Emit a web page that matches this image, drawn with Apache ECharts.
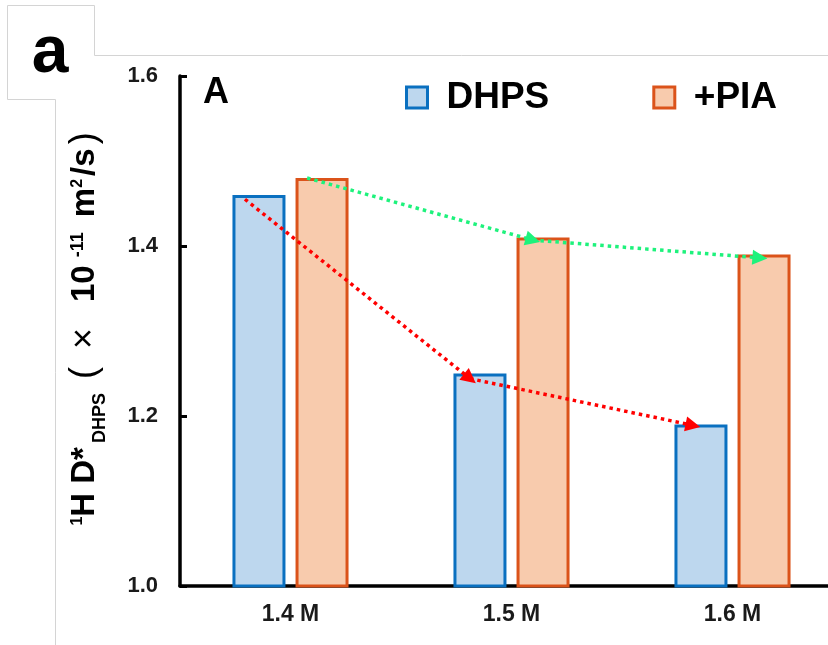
<!DOCTYPE html>
<html>
<head>
<meta charset="utf-8">
<script src="https://cdn.jsdelivr.net/npm/echarts@6/dist/echarts.min.js"></script>
<style>
  html, body { margin: 0; padding: 0; background: #fff; }
  #chart { width: 828px; height: 645px; }
</style>
</head>
<body>
<div id="chart"></div>
<script>
// Concentrations on the category axis
const categories = ['1.4 M', '1.5 M', '1.6 M'];
// Self-diffusion coefficient of DHPS (×10^-11 m²/s)
const dhpsValues = [1.46, 1.25, 1.19];
const piaValues = [1.48, 1.41, 1.39];
// Trend arrows: [category position, value] points, joined in order
const dhpsTrend = [[0.294, 1.455], [1.312, 1.244], [2.321, 1.189]];
const piaTrend = [[0.575, 1.48], [1.597, 1.407], [2.624, 1.386]];
// Value axis range
const yMin = 1.0, yMax = 1.6, yStep = 0.2;

function segments(points) {
  const out = [];
  for (let i = 0; i < points.length - 1; i++) {
    out.push({ coords: [points[i], points[i + 1]] });
  }
  return out;
}

const FONT = 'Liberation Sans, Arial, sans-serif';
const chart = echarts.init(document.getElementById('chart'), null, { renderer: 'canvas' });

// rich-text styles for the axis title: main text, superscript, subscript
function txt(size, weight, extra) {
  return Object.assign({ fontFamily: FONT, fontWeight: weight, fontSize: size, fill: '#000' }, extra);
}
const LINE = 48;
const titleRich = {
  b: txt(33, 'bold', { lineHeight: LINE, verticalAlign: 'middle' }),
  lp: txt(36, 'normal', { lineHeight: LINE, verticalAlign: 'middle', padding: [0, 0, 0, 14] }),
  x: txt(36, 'normal', { lineHeight: LINE, verticalAlign: 'middle', padding: [0, 0, 0, 18] }),
  ten: txt(33, 'bold', { lineHeight: LINE, verticalAlign: 'middle', padding: [0, 0, 0, 26] }),
  m: txt(33, 'bold', { lineHeight: LINE, verticalAlign: 'middle', padding: [0, 0, 0, 6] }),
  sup: txt(16, 'bold', { lineHeight: 20, verticalAlign: 'top', padding: [9, 0, 0, 0] }),
  supE: txt(18, 'bold', { lineHeight: 20, verticalAlign: 'top', padding: [8, 0, 0, 8] }),
  sub: txt(18, 'bold', { lineHeight: 20, verticalAlign: 'bottom', padding: [0, 0, 0, 4] }),
  sl: txt(33, 'bold', { lineHeight: LINE, verticalAlign: 'middle', padding: [0, 0, 0, 3] }),
  rp: txt(36, 'normal', { lineHeight: LINE, verticalAlign: 'middle', padding: [0, 0, 0, 4] })
};

const option = {
  backgroundColor: '#ffffff',
  animation: false,
  title: {
    text: 'A',
    left: 198,
    top: 70,
    textStyle: { fontFamily: FONT, fontWeight: 'bold', fontSize: 36, color: '#000' }
  },
  legend: {
    left: 400,
    top: 74,
    itemWidth: 21,
    itemHeight: 21,
    itemGap: 103,
    icon: 'rect',
    data: [
      { name: 'DHPS', itemStyle: { color: '#bdd7ee', borderColor: '#0a70c0', borderWidth: 3 } },
      { name: '+PIA', itemStyle: { color: '#f8cbad', borderColor: '#db531a', borderWidth: 3 } }
    ],
    textStyle: { fontFamily: FONT, fontWeight: 'bold', fontSize: 37, color: '#000', padding: [0, 0, 0, 14] }
  },
  grid: { left: 180, top: 76, width: 663, height: 510, outerBoundsMode: 'none', containLabel: false },
  xAxis: [
    {
      type: 'category',
      data: categories,
      axisLine: { lineStyle: { color: '#000', width: 3.5 } },
      axisTick: { show: false },
      axisLabel: { fontFamily: FONT, fontWeight: 'bold', fontSize: 23, color: '#1a1a1a', margin: 17 }
    },
    {
      type: 'value',
      min: 0,
      max: 3,
      show: false
    }
  ],
  yAxis: {
    type: 'value',
    min: yMin,
    max: yMax,
    interval: yStep,
    axisLine: { show: true, lineStyle: { color: '#000', width: 3.5 } },
    axisTick: { show: true, inside: true, length: 7, lineStyle: { color: '#000', width: 3 } },
    splitLine: { show: false },
    axisLabel: {
      fontFamily: FONT, fontWeight: 'bold', fontSize: 22, color: '#1a1a1a', margin: 22,
      formatter: v => v.toFixed(1)
    }
  },
  series: [
    {
      name: 'DHPS',
      type: 'bar',
      data: dhpsValues,
      barWidth: 53,
      barGap: '19%',
      itemStyle: { color: '#bdd7ee', borderColor: '#0a70c0', borderWidth: 3 }
    },
    {
      name: '+PIA',
      type: 'bar',
      data: piaValues,
      barWidth: 53,
      barGap: '19%',
      itemStyle: { color: '#f8cbad', borderColor: '#db531a', borderWidth: 3 }
    },
    {
      type: 'lines',
      coordinateSystem: 'cartesian2d',
      xAxisIndex: 1,
      yAxisIndex: 0,
      symbol: ['none', 'triangle'],
      symbolSize: 15,
      lineStyle: { color: '#ff0000', width: 3.5, type: [3.5, 4], opacity: 1, curveness: 0 },
      itemStyle: { color: '#ff0000' },
      data: segments(dhpsTrend),
      z: 5
    },
    {
      type: 'lines',
      coordinateSystem: 'cartesian2d',
      xAxisIndex: 1,
      yAxisIndex: 0,
      symbol: ['none', 'triangle'],
      symbolSize: 15,
      lineStyle: { color: '#1ef27c', width: 3.5, type: [3.5, 4], opacity: 1, curveness: 0 },
      itemStyle: { color: '#1ef27c' },
      data: segments(piaTrend),
      z: 5
    }
  ],
  graphic: [
    // panel frame with the notch for the panel letter
    {
      type: 'polyline',
      shape: { points: [[7.5, 99.5], [7.5, 5.5], [94.5, 5.5], [94.5, 55.5], [828, 55.5]] },
      style: { stroke: '#d4d4d4', lineWidth: 1, fill: null },
      silent: true
    },
    {
      type: 'polyline',
      shape: { points: [[7.5, 99.5], [55.5, 99.5], [55.5, 645]] },
      style: { stroke: '#d4d4d4', lineWidth: 1, fill: null },
      silent: true
    },
    {
      type: 'text',
      x: 50,
      y: 54,
      style: {
        text: 'a', fontFamily: FONT, fontWeight: 'bold', fontSize: 66, fill: '#000',
        align: 'center', verticalAlign: 'middle'
      }
    },
    // value axis title with sub- and superscripts
    {
      type: 'text',
      x: 85,
      y: 329,
      rotation: Math.PI / 2,
      style: {
        text: '{sup|1}{b|H D*}{sub|DHPS}{lp|(}{x|×}{ten|10}{supE|-11}{m| m}{sup|2}{sl|/s}{rp|)}',
        align: 'center',
        verticalAlign: 'middle',
        fill: '#000',
        rich: titleRich
      }
    }
  ]
};

chart.setOption(option);
</script>
</body>
</html>
